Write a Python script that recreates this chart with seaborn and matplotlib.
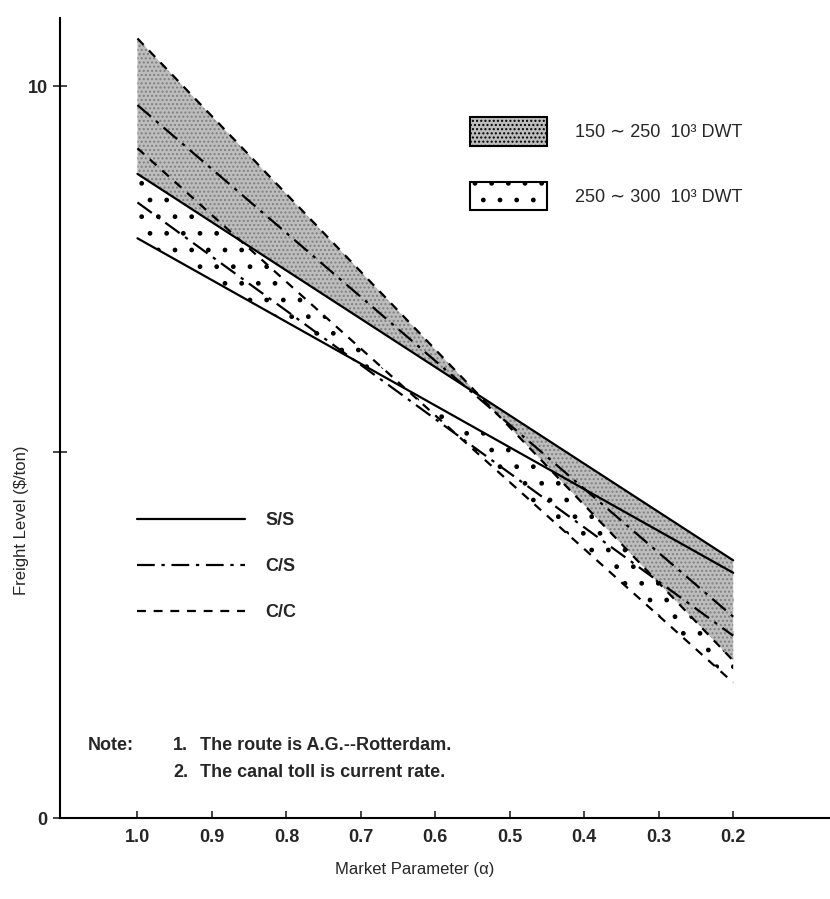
import numpy as np
import pandas as pd
import matplotlib.pyplot as plt
import seaborn as sns
from matplotlib.lines import Line2D
from matplotlib.patches import Patch

sns.set_style("ticks")
plt.rcParams['font.family'] = ['Liberation Sans', 'DejaVu Sans']
plt.rcParams['hatch.linewidth'] = 1.0

# market parameter at both ends of every line
ALPHA = [1.0, 0.2]

# freight level ($/ton) at alpha = 1.0 and 0.2
SS_150 = [8.80, 3.52]
CS_150 = [9.74, 2.75]
CC_150 = [10.65, 2.15]
SS_250 = [7.92, 3.35]
CS_250 = [8.41, 2.49]
CC_250 = [9.15, 1.85]

GROUPS = ["150 \u223c 250", "250 \u223c 300"]
MODES = ["S/S", "C/S", "C/C"]
X_TICKS = [1.0, 0.9, 0.8, 0.7, 0.6, 0.5, 0.4, 0.3, 0.2]
Y_TICKS = [0, 5, 10]
Y_TICKLABELS = ["0", "", "10"]
NOTES = ["The route is A.G.--Rotterdam.", "The canal toll is current rate."]

series = {GROUPS[0]: [SS_150, CS_150, CC_150],
          GROUPS[1]: [SS_250, CS_250, CC_250]}
rows = []
for grp, lines in series.items():
    for mode, vals in zip(MODES, lines):
        for a, v in zip(ALPHA, vals):
            rows.append(dict(alpha=a, freight=v, group=grp, mode=mode))
df = pd.DataFrame(rows)
df["line"] = df["group"] + " " + df["mode"]

GRAY = "#bdbdbd"
dash_styles = {"S/S": "", "C/S": (8, 3, 1.5, 3), "C/C": (4, 3.5)}

fig = plt.figure(figsize=(8.3, 8.99), dpi=100)
ax = fig.add_axes([0.0723, 0.0901, 0.9277, 0.8899])

# shaded bands between S/S and C/C of each size group
ax.fill_between(ALPHA, SS_250, CC_250, facecolor="white", hatch=".",
                edgecolor="black", linewidth=0, zorder=1)
ax.fill_between(ALPHA, SS_150, CC_150, facecolor=GRAY, hatch="....",
                edgecolor="#808080", linewidth=0, zorder=2)

sns.lineplot(data=df, x="alpha", y="freight", units="line", style="mode",
             estimator=None, color="black", dashes=dash_styles, linewidth=1.6,
             legend=False, sort=False, ax=ax, zorder=3)

ax.set_xlim(1.104, 0.07)
ax.set_ylim(0, 10.93)
ax.set_xticks(X_TICKS, [f"{t:.1f}" for t in X_TICKS])
ax.set_yticks(Y_TICKS, Y_TICKLABELS)
ax.tick_params(axis="x", direction="in", length=5, width=1.2, labelsize=13, pad=8)
ax.tick_params(axis="y", direction="inout", length=10, width=1.2, labelsize=13, pad=4)
for lbl in ax.get_xticklabels() + ax.get_yticklabels():
    lbl.set_fontweight("bold")
sns.despine(ax=ax)
for s in ["left", "bottom"]:
    ax.spines[s].set_linewidth(1.5)
    ax.spines[s].set_color("black")

ax.set_xlabel("Market Parameter (\u03b1)", fontsize=12)
ax.xaxis.set_label_coords(0.46, -0.055)
ax.set_ylabel("Freight Level (\\$/ton)", fontsize=12)
ax.yaxis.set_label_coords(-0.040, 0.3725)

# line style key
line_handles = [Line2D([], [], color="black", lw=1.6,
                       linestyle="-" if dash_styles[m] == "" else (0, dash_styles[m]))
                for m in MODES]
leg1 = ax.legend(handles=line_handles, labels=MODES, loc="upper left",
                 bbox_to_anchor=(0.10, 0.382), frameon=False, handlelength=6.0,
                 handletextpad=1.1, labelspacing=1.6, borderpad=0, borderaxespad=0,
                 prop={"size": 13, "weight": "bold"})
ax.add_artist(leg1)

# size group key
patch_handles = [Patch(facecolor=GRAY, edgecolor="black", hatch="....", lw=1.5),
                 Patch(facecolor="white", edgecolor="black", hatch=".", lw=1.5)]
ax.legend(handles=patch_handles, labels=[f"{g}  10\u00b3 DWT" for g in GROUPS],
          loc="upper left", bbox_to_anchor=(0.532, 0.876), frameon=False,
          handlelength=4.3, handleheight=2.05, handletextpad=1.55, labelspacing=2.0,
          borderpad=0, borderaxespad=0, prop={"size": 13})

ax.text(0.036, 0.091, "Note:", transform=ax.transAxes, fontsize=13,
        fontweight="bold", va="center")
for i, note in enumerate(NOTES):
    y = 0.091 - i * 0.034
    ax.text(0.147, y, f"{i + 1}.", transform=ax.transAxes, fontsize=13,
            fontweight="bold", va="center")
    ax.text(0.182, y, note, transform=ax.transAxes, fontsize=13,
            fontweight="bold", va="center")

fig.savefig("out.png", dpi=100)
